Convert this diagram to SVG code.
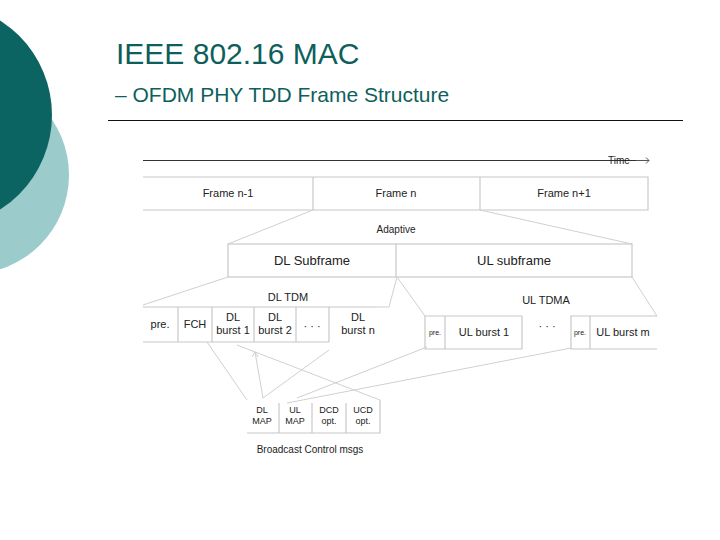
<svg xmlns="http://www.w3.org/2000/svg" width="720" height="540" viewBox="0 0 720 540">
<style>
.t{font-family:"Liberation Sans",Arial,sans-serif;fill:#222;text-anchor:middle}
.b{fill:none;stroke:#c8c8c8;stroke-width:1.2}
.c{stroke:#d0d0d0;stroke-width:1;fill:none}
</style>
<rect width="720" height="540" fill="#fff"/>
<circle cx="-30" cy="175" r="99" fill="#9ccbcb"/>
<circle cx="-60" cy="115" r="112" fill="#0b6461"/>
<text x="116" y="64" font-family="Liberation Sans,Arial,sans-serif" font-size="30" fill="#0e5f5c">IEEE 802.16 MAC</text>
<text x="115" y="102" font-family="Liberation Sans,Arial,sans-serif" font-size="21" fill="#0e5f5c">– OFDM PHY TDD Frame Structure</text>
<line x1="108" y1="120.5" x2="683" y2="120.5" stroke="#111" stroke-width="1"/>
<g id="time">
<line x1="143" y1="160.5" x2="640" y2="160.5" stroke="#333"/>
<text class="t" x="619" y="164" font-size="10">Time</text>
<path d="M636 160.5h13m-3-3l3 3-3 3" stroke="#555" fill="none"/>
</g>
<g id="frames">
<path class="b" d="M143 177H648V210H143"/>
<line class="b" x1="313" y1="177" x2="313" y2="210"/>
<line class="b" x1="480" y1="177" x2="480" y2="210"/>
<text class="t" x="228" y="197" font-size="11">Frame n-1</text>
<text class="t" x="396" y="197" font-size="11">Frame n</text>
<text class="t" x="564" y="197" font-size="11">Frame n+1</text>
</g>
<text class="t" x="396" y="233" font-size="10">Adaptive</text>
<g id="subframes">
<rect class="b" x="228" y="244" width="404" height="33"/>
<line class="b" x1="396" y1="244" x2="396" y2="277"/>
<text class="t" x="312" y="265" font-size="13">DL Subframe</text>
<text class="t" x="514" y="265" font-size="13">UL subframe</text>
</g>
<text class="t" x="288" y="301" font-size="11">DL TDM</text>
<g id="dl">
<path class="b" d="M143 307H329M143 342H329M178 307V342M212 307V342M254 307V342M296 307V342M329 342V307H377"/>
<text class="t" x="160" y="328" font-size="11">pre.</text>
<text class="t" x="195" y="328" font-size="11">FCH</text>
<text class="t" x="233" y="321" font-size="11">DL</text><text class="t" x="233" y="334" font-size="11">burst 1</text>
<text class="t" x="275" y="321" font-size="11">DL</text><text class="t" x="275" y="334" font-size="11">burst 2</text>
<text class="t" x="312" y="330" font-size="11">· · ·</text>
<text class="t" x="358" y="321" font-size="11">DL</text><text class="t" x="358" y="334" font-size="11">burst n</text>
</g>
<text class="t" x="546" y="304" font-size="11">UL TDMA</text>
<g id="ul">
<path class="b" d="M522 316H425V349H522ZM445 316V349M657 316H571V349H657M590 316V349"/>
<text class="t" x="435" y="335" font-size="7">pre.</text>
<text class="t" x="484" y="336" font-size="11">UL burst 1</text>
<text class="t" x="547" y="330" font-size="11">· · ·</text>
<text class="t" x="580" y="335" font-size="7">pre.</text>
<text class="t" x="623" y="336" font-size="11">UL burst m</text>
</g>
<g id="bcast">
<path class="b" d="M247 433H380V400M279 403V433M312 403V433M346 403V433"/>
<text class="t" x="262" y="413" font-size="9">DL</text><text class="t" x="262" y="424" font-size="9">MAP</text>
<text class="t" x="295" y="413" font-size="9">UL</text><text class="t" x="295" y="424" font-size="9">MAP</text>
<text class="t" x="329" y="413" font-size="9">DCD</text><text class="t" x="329" y="424" font-size="9">opt.</text>
<text class="t" x="363" y="413" font-size="9">UCD</text><text class="t" x="363" y="424" font-size="9">opt.</text>
<text class="t" x="310" y="453" font-size="10">Broadcast Control msgs</text>
</g>
<g id="connectors" class="c">
<line x1="313" y1="210" x2="228" y2="244"/>
<line x1="480" y1="210" x2="632" y2="244"/>
<line x1="228" y1="277" x2="143" y2="305"/>
<polyline points="397,277 389,307 377,307"/>
<line x1="397" y1="277" x2="425" y2="316"/>
<line x1="632" y1="277" x2="657" y2="316"/>
<line x1="207" y1="342" x2="247" y2="400"/>
<line x1="237" y1="345" x2="380" y2="400"/>
<line x1="263" y1="398" x2="255" y2="352"/>
<path d="M252 357l3-5 3 5"/>
<line x1="263" y1="398" x2="329" y2="350"/>
<line x1="297" y1="398" x2="427" y2="347"/>
<line x1="287" y1="403" x2="571" y2="348"/>
</g>
</svg>
